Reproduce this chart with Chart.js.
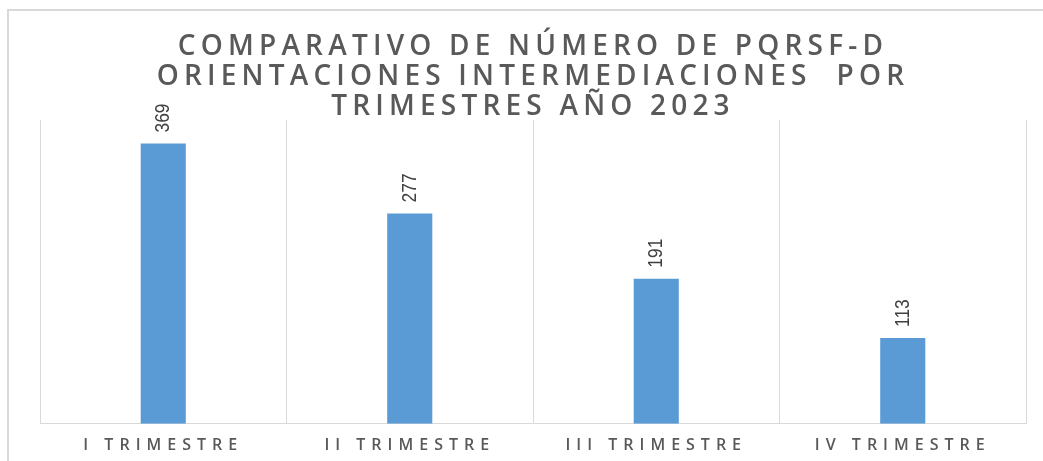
<!DOCTYPE html>
<html>
<head>
<meta charset="utf-8">
<script src="https://cdn.jsdelivr.net/npm/chart.js@4.4.1/dist/chart.umd.min.js"></script>
<style>
    body { margin: 0; background: #fff; overflow: hidden; }
    #wrap { position: relative; width: 1043px; height: 461px; }
    #marco {
        position: absolute; left: 7px; top: 9px; width: 1100px; height: 500px;
        border-left: 2px solid #d9d9d9; border-top: 2px solid #d9d9d9;
        pointer-events: none;
    }
</style>
</head>
<body>
<div id="wrap">
    <canvas id="chartTrimestres" width="1043" height="461"></canvas>
    <div id="marco"></div>
</div>
<script>
// Datos del grafico
const trimestres = ['I TRIMESTRE', 'II TRIMESTRE', 'III TRIMESTRE', 'IV TRIMESTRE'];
const totalPqrsf = [369, 277, 191, 113];
const tituloLineas = [
    'COMPARATIVO DE NÚMERO DE PQRSF-D',
    'ORIENTACIONES INTERMEDIACIONES  POR',
    'TRIMESTRES AÑO 2023'
];

// Espaciado de letras para titulo y etiquetas del eje
const espaciado = {
    id: 'espaciado',
    beforeDraw(chart) {
        chart.ctx.letterSpacing = '5.2px';
    },
    afterDatasetsDraw(chart) {
        const ctx = chart.ctx;
        ctx.letterSpacing = '0px';
        // Etiquetas de valor rotadas sobre cada barra
        const meta = chart.getDatasetMeta(0);
        meta.data.forEach((barra, i) => {
            ctx.save();
            ctx.translate(barra.x, barra.y - 11);
            ctx.rotate(-Math.PI / 2);
            ctx.scale(0.83, 1);
            ctx.font = '21px "Liberation Sans", Arial, sans-serif';
            ctx.fillStyle = '#404040';
            ctx.textAlign = 'left';
            ctx.textBaseline = 'middle';
            ctx.fillText(String(totalPqrsf[i]), 0, 0);
            ctx.restore();
        });
        ctx.letterSpacing = '6px';
    },
    afterDraw(chart) {
        chart.ctx.letterSpacing = '0px';
    }
};

const ctxTrimestres = document.getElementById('chartTrimestres').getContext('2d');
new Chart(ctxTrimestres, {
    type: 'bar',
    data: {
        labels: trimestres,
        datasets: [{
            label: 'PQRSF-D',
            data: totalPqrsf,
            backgroundColor: '#5b9bd5',
            borderWidth: 0,
            categoryPercentage: 1,
            barPercentage: 0.183
        }]
    },
    options: {
        responsive: false,
        animation: false,
        layout: {
            padding: { top: 0, left: 40, right: 17, bottom: -6 }
        },
        plugins: {
            legend: { display: false },
            tooltip: { enabled: false },
            title: {
                display: true,
                text: tituloLineas,
                color: '#595959',
                font: { family: '"Open Sans", sans-serif', size: 28, weight: '600', lineHeight: '30px' },
                padding: { top: 32, bottom: -2 }
            }
        },
        scales: {
            x: {
                grid: { color: '#d9d9d9', lineWidth: 1, drawTicks: false, offset: true },
                border: { color: '#d9d9d9', width: 1 },
                ticks: {
                    z: 1,
                    color: '#595959',
                    padding: 12,
                    maxRotation: 0,
                    font: { family: '"Open Sans", sans-serif', size: 16, weight: '600' }
                }
            },
            y: {
                display: false,
                min: 0,
                max: 400
            }
        }
    },
    plugins: [espaciado]
});
</script>
</body>
</html>
